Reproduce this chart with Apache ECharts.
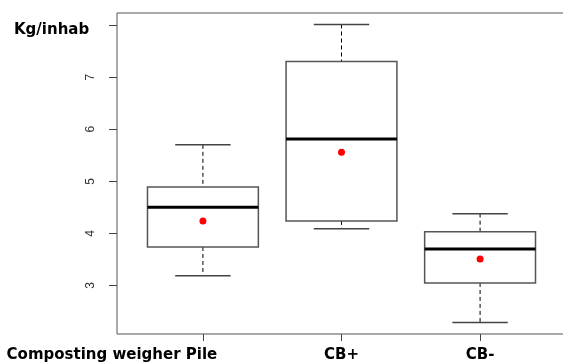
<!DOCTYPE html>
<html>
<head>
<meta charset="utf-8">
<script src="https://cdn.jsdelivr.net/npm/echarts@6/dist/echarts.min.js"></script>
<style>
  html, body { margin: 0; padding: 0; background: #fff; }
  #chart { width: 563px; height: 364px; }
</style>
</head>
<body>
<div id="chart"></div>
<script>
// box statistics per group
const categories = ['Composting weigher Pile', 'CB+', 'CB-'];
const mins    = [3.19, 4.09, 2.29];
const q1s     = [3.74, 4.24, 3.05];
const medians = [4.50, 5.81, 3.70];
const q3s     = [4.89, 7.30, 4.03];
const maxs    = [5.70, 8.01, 4.38];
const means   = [4.24, 5.56, 3.51];
const yTicks  = [3, 4, 5, 6, 7, 8];
const yLabels = [3, 4, 5, 6, 7];

const boxData = categories.map((c, i) => [i + 1, mins[i], q1s[i], medians[i], q3s[i], maxs[i]]);
const meanData = categories.map((c, i) => [i + 1, means[i]]);

const labelFont = 'DejaVu Sans';

function renderBox(params, api) {
    const x = api.value(0);
    const pMin = api.coord([x, api.value(1)]);
    const pQ1 = api.coord([x, api.value(2)]);
    const pMed = api.coord([x, api.value(3)]);
    const pQ3 = api.coord([x, api.value(4)]);
    const pMax = api.coord([x, api.value(5)]);
    const left = api.coord([x - 0.4, 0])[0];
    const right = api.coord([x + 0.4, 0])[0];
    const capL = api.coord([x - 0.2, 0])[0];
    const capR = api.coord([x + 0.2, 0])[0];
    const cx = pMed[0];
    return {
        type: 'group',
        children: [
            // whiskers
            { type: 'line', shape: { x1: cx, y1: pMax[1], x2: cx, y2: pQ3[1] },
              style: { stroke: '#000', lineWidth: 1, lineDash: [4, 3] } },
            { type: 'line', shape: { x1: cx, y1: pQ1[1], x2: cx, y2: pMin[1] },
              style: { stroke: '#000', lineWidth: 1, lineDash: [4, 3] } },
            // caps
            { type: 'line', shape: { x1: capL, y1: pMax[1], x2: capR, y2: pMax[1] },
              style: { stroke: '#444', lineWidth: 1.5 } },
            { type: 'line', shape: { x1: capL, y1: pMin[1], x2: capR, y2: pMin[1] },
              style: { stroke: '#444', lineWidth: 1.5 } },
            // box
            { type: 'rect', shape: { x: left, y: pQ3[1], width: right - left, height: pQ1[1] - pQ3[1] },
              style: { fill: 'none', stroke: '#555', lineWidth: 1.5 } },
            // median
            { type: 'line', shape: { x1: left, y1: pMed[1], x2: right, y2: pMed[1] },
              style: { stroke: '#000', lineWidth: 3 } }
        ]
    };
}

const chart = echarts.init(document.getElementById('chart'));

const option = {
    backgroundColor: '#fff',
    animation: false,
    title: {
        text: 'Kg/inhab',
        left: 9,
        top: 18,
        textStyle: { fontFamily: labelFont, fontWeight: 'bold', fontSize: 15, color: '#000' }
    },
    grid: {
        left: 117,
        right: -3,
        top: 13,
        bottom: 30,
        show: true,
        borderColor: '#555',
        borderWidth: 1,
        outerBoundsMode: 'none'
    },
    xAxis: {
        type: 'value',
        min: 0.38,
        max: 3.62,
        splitLine: { show: false },
        axisLine: { show: false },
        axisTick: {
            show: true,
            customValues: [1, 2, 3],
            length: 7,
            lineStyle: { color: '#444' }
        },
        axisLabel: {
            customValues: [1, 2, 3],
            margin: 14,
            formatter: function (v) {
                const name = categories[Math.round(v) - 1] || '';
                return Math.round(v) === 1 ? '{a|' + name + '}' : '{b|' + name + '}';
            },
            rich: {
                a: { fontFamily: labelFont, fontWeight: 'bold', fontSize: 15, color: '#000', padding: [0, 182, 0, 0] },
                b: { fontFamily: labelFont, fontWeight: 'bold', fontSize: 15, color: '#000' }
            }
        }
    },
    yAxis: {
        type: 'value',
        min: 2.07,
        max: 8.23,
        splitLine: { show: false },
        axisLine: { show: false },
        axisTick: {
            show: true,
            customValues: yTicks,
            length: 8,
            lineStyle: { color: '#444' }
        },
        axisLabel: {
            customValues: yLabels,
            rotate: 90,
            margin: 20,
            fontFamily: 'Liberation Sans',
            fontSize: 12,
            color: '#333'
        }
    },
    series: [
        {
            type: 'custom',
            renderItem: renderBox,
            encode: { x: 0, y: [1, 5] },
            data: boxData,
            z: 2
        },
        {
            type: 'scatter',
            data: meanData,
            symbol: 'circle',
            symbolSize: 7,
            itemStyle: { color: '#ff0000', opacity: 1 },
            z: 3
        }
    ]
};

chart.setOption(option);
</script>
</body>
</html>
